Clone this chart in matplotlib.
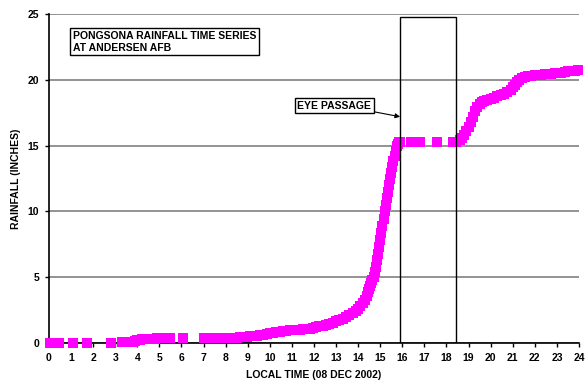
import matplotlib
matplotlib.use("Agg")
import matplotlib.pyplot as plt
from matplotlib.patches import Rectangle

plt.rcParams['font.family'] = ['Liberation Sans', 'DejaVu Sans']
plt.rcParams['font.weight'] = 'bold'

# Rainfall record, local time (hours) and accumulated rainfall (inches)
hours = [
    0.05, 0.25, 0.45, 1.1, 1.7, 2.8, 3.3,
    3.6, 3.7, 3.8, 3.9, 4.0, 4.1, 4.2, 4.3, 4.4, 4.5, 4.6, 4.7, 4.8, 4.9,
    5.0, 5.1, 5.2, 5.3, 5.4, 5.5,
    6.05,
    7.0, 7.15, 7.3, 7.45, 7.8, 7.95,
    8.2, 8.35, 8.5, 8.65, 8.8, 8.95, 9.1, 9.25, 9.4, 9.55, 9.7, 9.85,
    10.0, 10.15, 10.3, 10.45, 10.6, 10.75, 10.9, 11.05, 11.2, 11.35, 11.5,
    11.65, 11.8, 11.95, 12.1, 12.25, 12.4, 12.55, 12.7, 12.85, 13.0, 13.15,
    13.3, 13.45, 13.6, 13.75, 13.9, 14.0, 14.1, 14.2, 14.3, 14.4, 14.45,
    14.5, 14.55, 14.6, 14.65, 14.7, 14.75, 14.8, 14.85, 14.9, 14.95, 15.0,
    15.05, 15.1, 15.15, 15.2, 15.25, 15.3, 15.35, 15.4, 15.45, 15.5, 15.55,
    15.6, 15.65, 15.7, 15.75, 15.8, 15.85, 15.9,
    16.4, 16.8, 17.55, 18.3, 18.45,
    18.6, 18.7, 18.8, 18.9, 19.0, 19.1, 19.2, 19.3, 19.4, 19.5, 19.6, 19.7,
    19.85, 20.0, 20.15, 20.3, 20.45, 20.6, 20.75, 20.9, 21.0, 21.1, 21.2,
    21.3, 21.4, 21.55, 21.7, 21.85, 22.0, 22.15, 22.3, 22.45, 22.6, 22.75,
    22.9, 23.05, 23.2, 23.35, 23.5, 23.65, 23.8, 23.95,
]
rainfall = [
    0.0, 0.02, 0.02, 0.0, 0.0, 0.0, 0.05,
    0.05, 0.08, 0.1, 0.15, 0.2, 0.25, 0.28, 0.3, 0.3, 0.32, 0.33, 0.33, 0.34, 0.35,
    0.35, 0.36, 0.36, 0.37, 0.37, 0.38,
    0.38,
    0.4, 0.4, 0.4, 0.4, 0.4, 0.4,
    0.4, 0.4, 0.42, 0.43, 0.45, 0.47, 0.5, 0.52, 0.55, 0.6, 0.63, 0.68,
    0.73, 0.78, 0.82, 0.86, 0.9, 0.93, 0.96, 0.98, 1.0, 1.02, 1.04,
    1.07, 1.1, 1.15, 1.22, 1.28, 1.33, 1.4, 1.48, 1.56, 1.65, 1.75,
    1.85, 1.95, 2.1, 2.25, 2.45, 2.6, 2.8, 3.05, 3.3, 3.6, 3.85,
    4.1, 4.35, 4.6, 4.8, 5.0, 5.4, 5.8, 6.3, 6.8, 7.3, 7.8,
    8.35, 8.9, 9.45, 10.0, 10.5, 11.0, 11.5, 12.0, 12.45, 12.9, 13.35,
    13.8, 14.2, 14.6, 14.95, 15.15, 15.25, 15.3,
    15.3, 15.3, 15.3, 15.3, 15.3,
    15.4, 15.6, 15.85, 16.1, 16.4, 16.8, 17.2, 17.6, 17.95, 18.2, 18.35, 18.42,
    18.5, 18.55, 18.65, 18.75, 18.85, 18.95, 19.1, 19.25, 19.45, 19.65, 19.85,
    20.0, 20.15, 20.25, 20.3, 20.33, 20.36, 20.38, 20.4, 20.42, 20.44, 20.46,
    20.5, 20.52, 20.55, 20.6, 20.68, 20.7, 20.7, 20.72,
]

# eye passage window (hours)
eye_start, eye_end = 15.9, 18.45

fig = plt.figure(figsize=(5.86, 3.82), dpi=100)
ax = fig.add_axes([0.0836, 0.102, 0.9044, 0.861])

ax.set_xlim(0, 24)
ax.set_ylim(0, 25)
ax.set_xticks(range(0, 25))
ax.set_yticks(range(0, 26, 5))
ax.yaxis.grid(True, color='#808080', linewidth=1.2)
ax.set_axisbelow(True)
for side in ['top', 'right']:
    ax.spines[side].set_visible(False)
for side in ['left', 'bottom']:
    ax.spines[side].set_linewidth(1.2)
ax.tick_params(axis='both', labelsize=7.5, length=3, width=1, pad=4)
for lbl in ax.get_xticklabels() + ax.get_yticklabels():
    lbl.set_fontweight('bold')

ax.plot(hours, rainfall, linestyle='none', marker='s', markersize=7,
        color='#ff00ff', markeredgewidth=0, clip_on=False, zorder=3)

# eye passage box
ax.add_patch(Rectangle((eye_start, 0), eye_end - eye_start, 24.77,
                       fill=False, edgecolor='black', linewidth=1, zorder=4))

ax.text(1.08, 22.9, 'PONGSONA RAINFALL TIME SERIES\nAT ANDERSEN AFB',
        fontsize=7.5, fontweight='bold', va='center', ha='left', linespacing=1.25,
        bbox=dict(boxstyle='square,pad=0.25', facecolor='white',
                  edgecolor='black', linewidth=1))

ax.annotate('EYE PASSAGE', xy=(eye_start, 17.2), xytext=(11.25, 18.05),
            fontsize=7.5, fontweight='bold', va='center', ha='left',
            bbox=dict(boxstyle='square,pad=0.25', facecolor='white',
                      edgecolor='black', linewidth=1),
            arrowprops=dict(arrowstyle='-|>', color='black', lw=0.8,
                            mutation_scale=7, shrinkA=0, shrinkB=0,
                            relpos=(0.95, 0.0)))

ax.set_xlabel('LOCAL TIME (08 DEC 2002)', fontsize=7.5, fontweight='bold',
              labelpad=5)
ax.set_ylabel('RAINFALL (INCHES)', fontsize=7.5, fontweight='bold', labelpad=5)

fig.savefig('out.png', dpi=100)
